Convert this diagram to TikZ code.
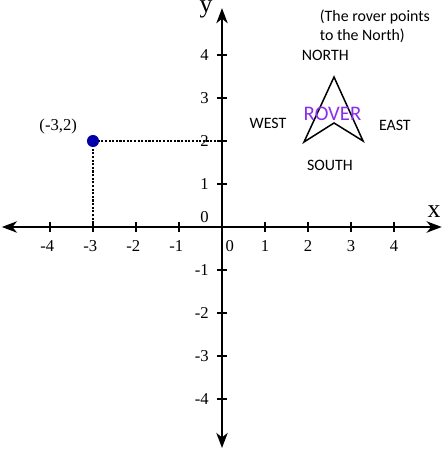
\documentclass[tikz,border=0pt]{standalone}
\usepackage{fontspec}
\setmainfont{Liberation Serif}
\newfontfamily\carlito{Carlito}
\usetikzlibrary{arrows.meta, positioning}
\definecolor{dotblue}{RGB}{0,0,170}
\definecolor{roverviolet}{RGB}{140,45,235}

\begin{document}
\begin{tikzpicture}[
    >={Stealth[length=10pt, width=7.5pt, inset=3pt]},
    axis/.style={line width=1.2pt},
    tick/.style={line width=0.9pt},
    num/.style={font=\fontsize{11}{13}\selectfont, inner sep=0pt},
    axlabel/.style={font=\fontsize{17}{20}\selectfont, inner sep=0pt, anchor=base},
    dir/.style={font=\carlito\fontsize{10.5}{12.5}\selectfont, inner sep=0pt},
    guide/.style={densely dotted, line width=1.4pt}
]
\useasboundingbox (-5.163,-5.186) rectangle (5.140,5.279);

% axes
\coordinate (xl) at (-5.12,0);
\coordinate (xr) at (5.11,0);
\coordinate (yb) at (0,-5.14);
\coordinate (yt) at (0,5.09);
\draw[axis, <->] (xl) -- (xr);
\draw[axis, <->] (yb) -- (yt);
\node[axlabel] (xlab) at (4.93,0.21) {x};
\node[axlabel] (ylab) at (-0.37,4.98) {y};

% ticks and numbers
\foreach \k in {1,...,4} {
    \draw[tick] (\k,-0.12) -- (\k,0.12);
    \draw[tick] (-\k,-0.12) -- (-\k,0.12);
    \draw[tick] (-0.12,\k) -- (0.12,\k);
    \draw[tick] (-0.12,-\k) -- (0.12,-\k);
    \node[num, anchor=north] at (\k,-0.3) {\k};
    \node[num, anchor=north] at (-\k,-0.3) {\llap{-}\k};
    \node[num, anchor=east] at (-0.3,\k) {\k};
    \node[num, anchor=east] at (-0.3,-\k) {-\k};
}
\node[num, anchor=north] (zerox) at (0.18,-0.3) {0};
\node[num, anchor=east] (zeroy) at (-0.3,0.23) {0};

% point (-3,2)
\coordinate (px) at (-3,0);
\coordinate (py) at (0,2);
\draw[guide] (px) -- (-3,2) -- (py);
\node[circle, fill=dotblue, inner sep=0pt, minimum size=0.28cm] (pt) at (-3,2) {};
\node[num] (ptlab) at (-3.81,2.33) {(-3,2)};

% rover
\coordinate (tip) at (2.605,3.488);
\coordinate (rl) at (1.907,1.977);
\coordinate (notch) at (2.605,2.419);
\coordinate (rr) at (3.28,2.0);
\draw[line width=1pt, line join=miter] (tip) -- (rl) -- (notch) -- (rr) -- cycle;
\node[dir, font=\carlito\fontsize{13.7}{16}\selectfont, text=roverviolet] (rover) at (2.57,2.62) {ROVER};
\node[dir] (north) at (2.40,3.98) {NORTH};
\node[dir] (west) at (1.07,2.42) {WEST};
\node[dir] (east) at (4.02,2.37) {EAST};
\node[dir] (south) at (2.51,1.43) {SOUTH};
\node[dir, align=left, anchor=north west] (note) at (2.27,5.05) {(The rover points\\to the North)};
\end{tikzpicture}
\end{document}
